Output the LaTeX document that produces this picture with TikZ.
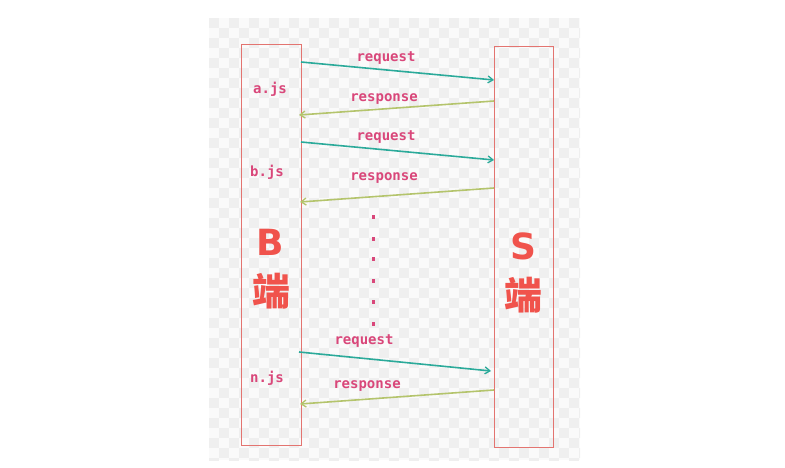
\documentclass[tikz,border=0pt]{standalone}
\usepackage{fontspec}
\newfontfamily\monof{DejaVu Sans Mono}
\newfontfamily\cjk{Noto Sans CJK SC}
\newfontfamily\bigsans{DejaVu Sans}
\usetikzlibrary{arrows.meta}
\definecolor{boxred}{HTML}{E37470}
\definecolor{labpink}{HTML}{D9477A}
\definecolor{reqc}{HTML}{2BAA9A}
\definecolor{resc}{HTML}{B4C46C}
\definecolor{bigred}{HTML}{F0534C}
\definecolor{bgc}{HTML}{FAFAFA}
\definecolor{bgd}{HTML}{EFEFEF}
\tikzset{
  lane/.style={draw=boxred, line width=1pt},
  lbl/.style={text=labpink, font=\monof\bfseries\fontsize{14}{15}\selectfont, inner sep=0pt},
  req/.style={draw=reqc, line width=1.6pt, -{Straight Barb[length=5pt,width=7pt,line width=1.3pt]}},
  res/.style={draw=resc, line width=1.6pt, -{Straight Barb[length=5pt,width=7pt,line width=1.3pt]}},
  bigl/.style={text=bigred, inner sep=0pt},
  dot/.style={rectangle, fill=labpink, inner sep=0pt, minimum width=3pt, minimum height=4pt}
}
\begin{document}
\begin{tikzpicture}[x=1pt,y=-1pt]
\useasboundingbox (0,0) rectangle (785,468);
\fill[bgc] (209,18) rectangle (580,460);
\begin{scope}
\clip (209,18) rectangle (580,460);
\foreach \i in {0,...,37} \foreach \j in {0,...,44} {
  \pgfmathtruncatemacro{\myparity}{mod(\i+\j,2)}
  \ifnum\myparity=0 \fill[bgd] (209+\i*10,18+\j*10) rectangle ++(10,10);\fi
}
\end{scope}
% lanes
\draw[lane] (241,45) rectangle (301,445);
\draw[lane] (494,47) rectangle (553,447);
% anchor coordinates
\coordinate (l1) at (301,62);  \coordinate (r1) at (494,80);
\coordinate (r2) at (494,101); \coordinate (l2) at (299,115);
\coordinate (l3) at (301,142); \coordinate (r3) at (494,160);
\coordinate (r4) at (494,188); \coordinate (l4) at (300,202);
\coordinate (l5) at (299,352); \coordinate (r5) at (491,371);
\coordinate (r6) at (494,390); \coordinate (l6) at (300,404);
\draw[req] (l1) -- (r1);
\draw[res] (r2) -- (l2);
\draw[req] (l3) -- (r3);
\draw[res] (r4) -- (l4);
\draw[req] (l5) -- (r5);
\draw[res] (r6) -- (l6);
% labels
\node[lbl] (t1) at (386,58) {request};
\node[lbl] (t2) at (384,99) {response};
\node[lbl] (t3) at (386,137) {request};
\node[lbl] (t4) at (384,178) {response};
\node[lbl] (t5) at (364,341) {request};
\node[lbl] (t6) at (367,386) {response};
\node[lbl] (fa) at (270,89) {a.js};
\node[lbl] (fb) at (267,172) {b.js};
\node[lbl] (fn) at (267,378) {n.js};
% dots
\foreach \yy [count=\i] in {217,239,259,281,302,324}
  \node[dot] (d\i) at (373,\yy) {};
% big letters
\node[bigl, font=\bigsans\bfseries\fontsize{36}{38}\selectfont] (B) at (270,242) {B};
\node[bigl, font=\cjk\bfseries\fontsize{38}{40}\selectfont] (Bd) at (271,291) {端};
\node[bigl, font=\bigsans\bfseries\fontsize{36}{38}\selectfont] (S) at (523,246) {S};
\node[bigl, font=\cjk\bfseries\fontsize{38}{40}\selectfont] (Sd) at (523,295) {端};
\end{tikzpicture}
\end{document}
